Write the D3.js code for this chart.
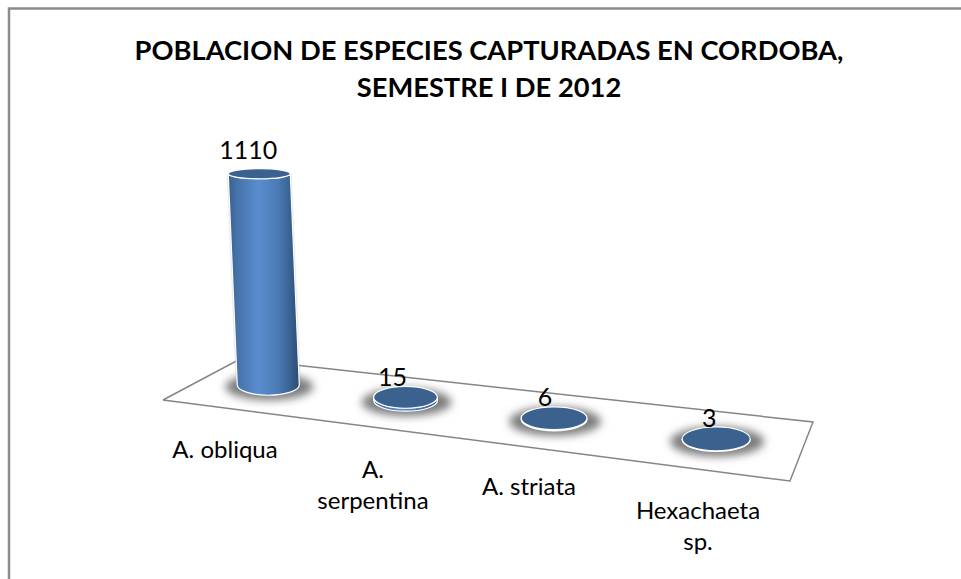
<!DOCTYPE html>
<html>
<head>
<meta charset="utf-8">
<script src="https://cdn.jsdelivr.net/npm/d3@7"></script>
<style>
html,body{margin:0;padding:0;background:#fff;overflow:hidden}
svg{display:block}
text{font-family:Lato,"Open Sans",sans-serif;fill:#000}
</style>
</head>
<body>
<svg id="c" width="961" height="579"></svg>
<script>
const titleLines = ["POBLACION DE ESPECIES CAPTURADAS EN CORDOBA,", "SEMESTRE I DE 2012"];
const categories = ["A. obliqua", "A. serpentina", "A. striata", "Hexachaeta sp."];
const categoryLines = [["A. obliqua"], ["A.", "serpentina"], ["A. striata"], ["Hexachaeta", "sp."]];
const values = [1110, 15, 6, 3];

const svg = d3.select("#c");
const defs = svg.append("defs");

// chart frame: top and left edges only
svg.append("path").attr("d", "M9,579V8.5H961").attr("fill", "none").attr("stroke", "#8c8c8c").attr("stroke-width", 2.5);

// title
svg.append("g").selectAll("text").data(titleLines).join("text")
  .attr("x", 489).attr("y", (d, i) => 60 + i * 37)
  .attr("text-anchor", "middle").attr("font-size", 27.3).attr("font-weight", 700)
  .text(d => d);

// floor plane projection: unit square onto the perspective quad
const quad = { fl: [163, 400], fr: [790, 481], br: [813, 422], bl: [240, 359] };
function makeProjection(q) {
  const dx1 = q.fr[0] - q.br[0], dx2 = q.bl[0] - q.br[0], sx = q.fl[0] - q.fr[0] + q.br[0] - q.bl[0];
  const dy1 = q.fr[1] - q.br[1], dy2 = q.bl[1] - q.br[1], sy = q.fl[1] - q.fr[1] + q.br[1] - q.bl[1];
  const det = dx1 * dy2 - dx2 * dy1;
  const g = (sx * dy2 - dx2 * sy) / det, h = (dx1 * sy - sx * dy1) / det;
  const a = q.fr[0] - q.fl[0] + g * q.fr[0], b = q.bl[0] - q.fl[0] + h * q.bl[0], c = q.fl[0];
  const d = q.fr[1] - q.fl[1] + g * q.fr[1], e = q.bl[1] - q.fl[1] + h * q.bl[1], f = q.fl[1];
  return (u, v) => {
    const w = g * u + h * v + 1;
    return [(a * u + b * v + c) / w, (d * u + e * v + f) / w, 1 / w];
  };
}
const project = makeProjection(quad);
const uScale = d3.scalePoint().domain(categories).range([0.005, 1.005]).padding(0.5);
const vDepth = 0.5;
const baseNudge = [[0, -1.5], [3, -2], [3, -0.5], [0, 0]];
const heightScale = d3.scaleLinear().domain([0, 1110]).range([0, 211]);
const rxScale = d3.scaleLinear().domain([0.974, 1.137]).range([31, 34]);
const ryScale = d3.scaleLinear().domain([0.974, 1.137]).range([10.5, 12]);
const topRyScale = d3.scaleLinear().domain([0, 211]).range([1, 0.48]);
const leanScale = d3.scaleLinear().domain([0, 211]).range([0, -9]);

// defs
const grad = defs.append("linearGradient").attr("id", "body").attr("x1", 0).attr("x2", 1).attr("y1", 0).attr("y2", 0);
[[0, "#3a618f"], [0.12, "#4572a8"], [0.42, "#5a8dcf"], [0.7, "#4a7bb6"], [0.88, "#37608f"], [1, "#2b4b74"]]
  .forEach(s => grad.append("stop").attr("offset", s[0]).attr("stop-color", s[1]));
defs.append("filter").attr("id", "blur").attr("x", "-40%").attr("y", "-80%").attr("width", "180%").attr("height", "260%")
  .append("feGaussianBlur").attr("stdDeviation", 4.5);
defs.append("filter").attr("id", "blurThin").attr("x", "-20%").attr("y", "-20%").attr("width", "140%").attr("height", "140%")
  .append("feGaussianBlur").attr("stdDeviation", 1);

const marks = categories.map((c, i) => {
  const p = project(uScale(c), vDepth);
  const h = heightScale(values[i]);
  const x = p[0] + baseNudge[i][0], y = p[1] + baseNudge[i][1];
  return { c, v: values[i], x, y, rx: rxScale(p[2]), ry: ryScale(p[2]), h,
           tx: x + leanScale(h), ty: y - h, tRy: ryScale(p[2]) * topRyScale(h), i };
});

// shadows sit on white, under the floor outline
const gMarks = svg.append("g");
gMarks.selectAll("ellipse.shadow").data(marks).join("ellipse").attr("class", "shadow")
  .attr("cx", d => d.x + 1).attr("cy", d => d.y + 2)
  .attr("rx", d => d.rx + 13).attr("ry", d => d.ry + 3)
  .attr("fill", "#7c7c7c").attr("filter", "url(#blur)");

// floor outline
const floorLine = d3.line()([[0, 0], [1, 0], [1, 1], [0, 1], [0, 0]].map(uv => project(uv[0], uv[1])));
svg.append("path").attr("d", floorLine).attr("fill", "none").attr("stroke", "#858585").attr("stroke-width", 1.5);

const gBars = svg.append("g");
const bodyPath = d => `M${d.tx - d.rx},${d.ty}L${d.x - d.rx},${d.y}A${d.rx},${d.ry} 0 0 0 ${d.x + d.rx},${d.y}L${d.tx + d.rx},${d.ty}A${d.rx},${d.tRy} 0 0 1 ${d.tx - d.rx},${d.ty}Z`;

gBars.selectAll("path.halo").data(marks.filter(d => d.h > 20)).join("path").attr("class", "halo")
  .attr("d", bodyPath).attr("fill", "#999").attr("filter", "url(#blurThin)");
gBars.selectAll("path.body").data(marks).join("path").attr("class", "body")
  .attr("d", bodyPath).attr("fill", "url(#body)").attr("stroke", "#fff").attr("stroke-width", 1.2);
gBars.selectAll("ellipse.top").data(marks).join("ellipse").attr("class", "top")
  .attr("cx", d => d.tx).attr("cy", d => d.ty).attr("rx", d => d.rx).attr("ry", d => d.tRy)
  .attr("fill", "#3b628f").attr("stroke", "#fff").attr("stroke-width", 1.2);

// value labels
const valueOffset = [[-11, -15], [-13, -11], [-9, -12], [-7, -12]];
svg.append("g").selectAll("text").data(marks).join("text")
  .attr("x", d => d.tx + valueOffset[d.i][0])
  .attr("y", d => d.ty + valueOffset[d.i][1])
  .attr("text-anchor", "middle").attr("font-size", 25)
  .text(d => d.v);

// category labels
const labelCentre = [225, 373, 529, 698];
const labelBaseline = [458, 478, 495, 519];
svg.append("g").selectAll("text").data(categories).join("text")
  .attr("text-anchor", "middle").attr("font-size", 24)
  .each(function (c, i) {
    d3.select(this).selectAll("tspan").data(categoryLines[i]).join("tspan")
      .attr("x", labelCentre[i]).attr("y", (l, k) => labelBaseline[i] + k * 31).text(l => l);
  });
</script>
</body>
</html>
